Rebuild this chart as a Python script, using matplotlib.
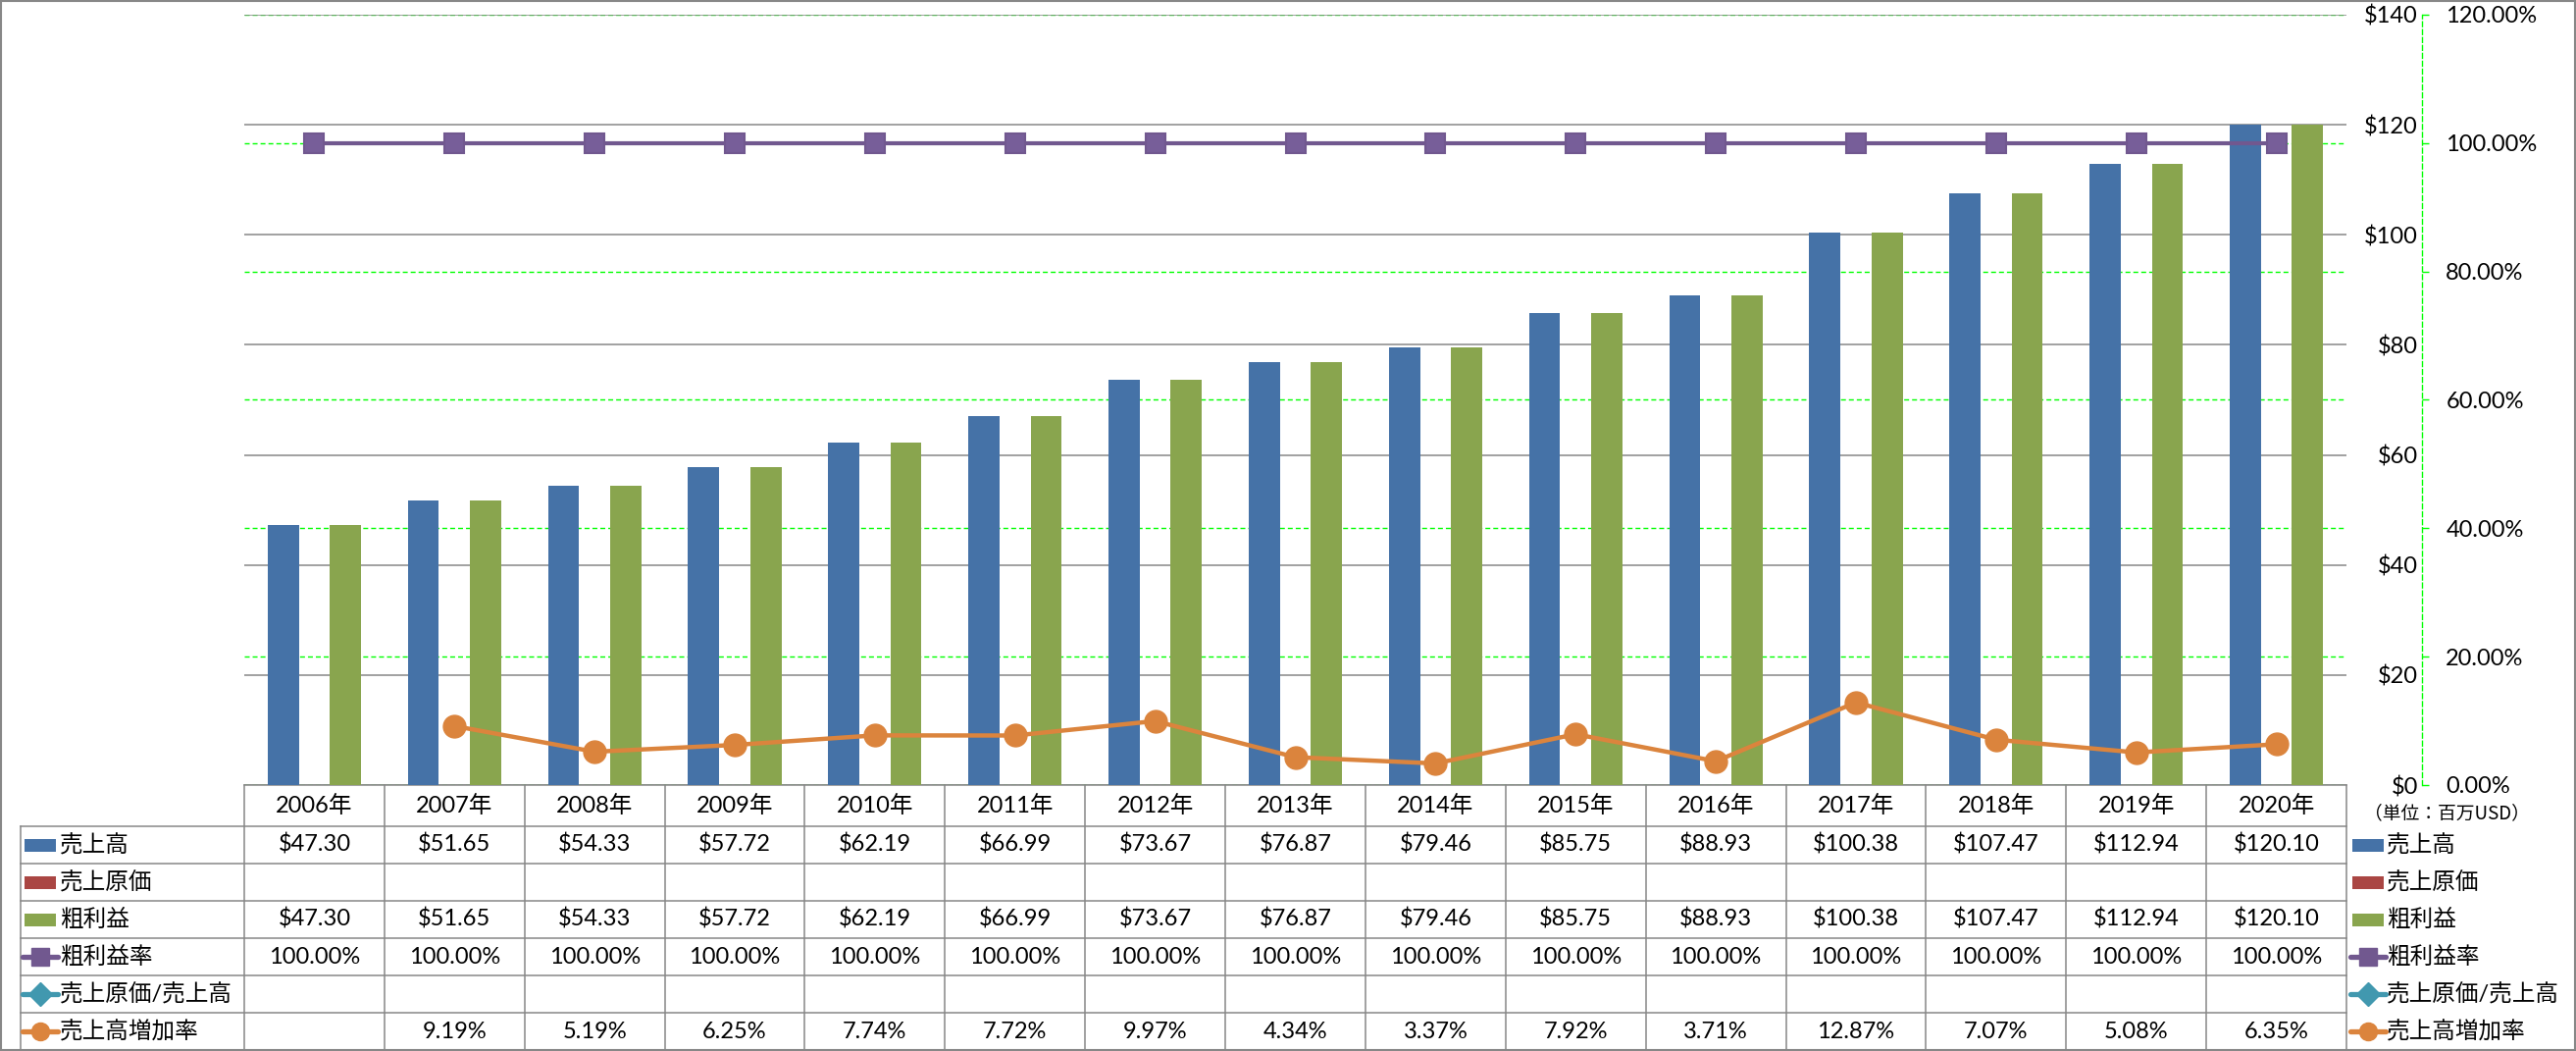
import numpy as np
import matplotlib
matplotlib.use("Agg")
import matplotlib.pyplot as plt
from matplotlib.patches import Rectangle
from matplotlib.ticker import FuncFormatter, MultipleLocator

plt.rcParams['font.family'] = ['Lato', 'Noto Sans CJK JP', 'DejaVu Sans']

# ---- data ----
years = [2006, 2007, 2008, 2009, 2010, 2011, 2012, 2013, 2014, 2015, 2016, 2017, 2018, 2019, 2020]
sales = [47.30, 51.65, 54.33, 57.72, 62.19, 66.99, 73.67, 76.87, 79.46, 85.75, 88.93, 100.38, 107.47, 112.94, 120.10]
cogs = [None] * 15
gross = [47.30, 51.65, 54.33, 57.72, 62.19, 66.99, 73.67, 76.87, 79.46, 85.75, 88.93, 100.38, 107.47, 112.94, 120.10]
gross_rate = [100.0] * 15
cogs_ratio = [None] * 15
growth = [None, 9.19, 5.19, 6.25, 7.74, 7.72, 9.97, 4.34, 3.37, 7.92, 3.71, 12.87, 7.07, 5.08, 6.35]
labels = ["売上高", "売上原価", "粗利益", "粗利益率", "売上原価/売上高", "売上高増加率"]

C_BLUE, C_RED, C_GREEN = "#4572A7", "#AA4643", "#89A54E"
C_PURPLE, C_TEAL, C_ORANGE = "#71588F", "#4198AF", "#DB843D"
GRID = "#878787"
LIME = "#00FF00"

def f(v):
    return np.nan if v is None else float(v)

W, H = 2626, 1071
L, R, T, B = 249, 2392, 15, 800
FS = 17

fig = plt.figure(figsize=(W / 100, H / 100), dpi=100)
fig.patch.set_facecolor("white")

# ---- main chart ----
ax = fig.add_axes([L / W, 1 - B / H, (R - L) / W, (B - T) / H])
ax2 = ax.twinx()
ax3 = ax.twinx()
ax.set_zorder(2); ax.patch.set_visible(False)
ax2.set_zorder(1)
ax3.set_zorder(3)

x = np.arange(len(years))
bw = 0.222
ax.bar(x - bw, sales, bw, color=C_BLUE, zorder=2)
ax.bar(x, [0 if v is None else v for v in cogs], bw, color=C_RED, zorder=2)
ax.bar(x + bw, gross, bw, color=C_GREEN, zorder=2)
ax.set_xlim(-0.5, len(years) - 0.5)
ax.set_ylim(0, 140)
ax.yaxis.set_major_locator(MultipleLocator(20))
ax.yaxis.set_major_formatter(FuncFormatter(lambda v, p: f"${v:.0f}"))
ax.yaxis.tick_right()
ax.tick_params(axis='y', length=0, pad=52.5, labelsize=FS)
for t in ax.get_yticklabels():
    t.set_ha("right")
ax.set_xticks([])
ax.grid(axis='y', color=GRID, lw=1.1, zorder=0)
ax.set_axisbelow(True)
for s in ax.spines.values():
    s.set_visible(False)

# secondary axis (percent)
ax2.set_ylim(0, 1.2)
ax2.yaxis.set_major_locator(MultipleLocator(0.2))
ax2.yaxis.set_major_formatter(FuncFormatter(lambda v, p: f"{v * 100:.2f}%"))
ax2.tick_params(axis='y', color=LIME, length=5, width=1, pad=12.5, labelsize=FS)
ax2.grid(axis='y', color=LIME, lw=1.0, ls=(0, (3.6, 2.2)))
for k, s in ax2.spines.items():
    s.set_visible(False)
ax2.spines['right'].set_visible(True)
ax2.spines['right'].set_position(('axes', (2469 - L) / (R - L)))
ax2.spines['right'].set_color(LIME)
ax2.spines['right'].set_linestyle((0, (3.6, 2.2)))
ax2.spines['right'].set_linewidth(1.0)
ax2.set_xticks([])

# lines
ax3.set_ylim(0, 1.2)
ax3.plot(x, [f(v) / 100 for v in gross_rate], color=C_PURPLE, lw=3.0, marker='s', ms=14.4,
         mfc="#775E99", mec=C_PURPLE, mew=1.5)
ax3.plot(x, [f(v) / 100 for v in growth], color=C_ORANGE, lw=3.2, marker='o', ms=16.5, mec=C_ORANGE)
ax3.axis('off')

# ---- data table (pixel overlay) ----
tb = fig.add_axes([0, 0, 1, 1], zorder=0)
tb.set_xlim(0, W); tb.set_ylim(H, 0); tb.axis('off')

colw = (R - L) / len(years)
hdr_top, hdr_bot = 800, 842
rows = [842 + 38 * k for k in range(7)]
LX = 21

tb.plot([L, R], [hdr_top, hdr_top], color=GRID, lw=1.1)
for yy in rows:
    tb.plot([LX, R], [yy, yy], color=GRID, lw=1.1)
tb.plot([LX, LX], [rows[0], rows[-1]], color=GRID, lw=1.1)
for k in range(len(years) + 1):
    xx = L + k * colw
    tb.plot([xx, xx], [hdr_top, rows[-1]], color=GRID, lw=1.1)

for i, yr in enumerate(years):
    tb.text(L + (i + 0.5) * colw, (hdr_top + hdr_bot) / 2, f"{yr}年", ha='center', va='center', fontsize=FS)

row_vals = [
    [None if v is None else f"${v:.2f}" for v in sales],
    [None if v is None else f"${v:.2f}" for v in cogs],
    [None if v is None else f"${v:.2f}" for v in gross],
    [None if v is None else f"{v:.2f}%" for v in gross_rate],
    [None if v is None else f"{v:.2f}%" for v in cogs_ratio],
    [None if v is None else f"{v:.2f}%" for v in growth],
]
key_styles = [
    ('bar', C_BLUE, None), ('bar', C_RED, None), ('bar', C_GREEN, None),
    ('line', C_PURPLE, 's'), ('line', C_TEAL, 'D'), ('line', C_ORANGE, 'o'),
]

def draw_key(x0, yc, style):
    kind, col, mk = style
    if kind == 'bar':
        tb.add_patch(Rectangle((x0 + 2, yc - 6.5), 32, 13, color=col, lw=0))
    else:
        tb.plot([x0, x0 + 36], [yc, yc], color=col, lw=3.8, solid_capstyle='round')
        tb.plot([x0 + 18], [yc], marker=mk, color=col, ms=13 if mk != 'D' else 12)

for r in range(6):
    yc = (rows[r] + rows[r + 1]) / 2
    draw_key(23, yc, key_styles[r])
    tb.text(61, yc, labels[r], ha='left', va='center', fontsize=FS)
    for i, s in enumerate(row_vals[r]):
        if s is not None:
            tb.text(L + (i + 0.5) * colw, yc, s, ha='center', va='center', fontsize=FS)
    # right legend
    draw_key(2396, yc, key_styles[r])
    tb.text(2433, yc, labels[r], ha='left', va='center', fontsize=FS)

tb.text(2410, 829, "（単位：百万USD）", ha='left', va='center', fontsize=13.5,
        family=['Noto Sans CJK JP', 'DejaVu Sans'])

# outer border
tb.add_patch(Rectangle((1, 1), W - 2, H - 2, fill=False, ec=GRID, lw=1.5))

fig.savefig("out.png", dpi=100, facecolor="white")
